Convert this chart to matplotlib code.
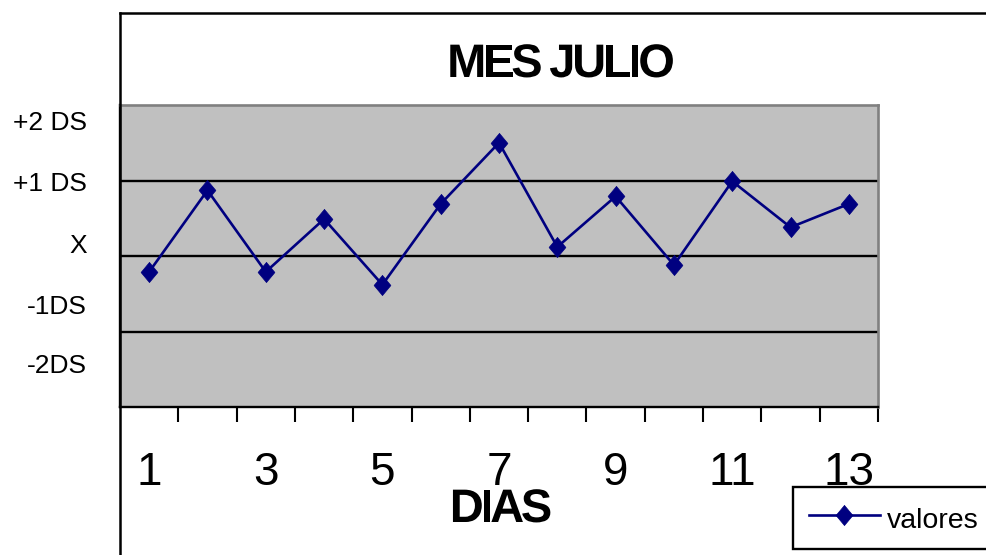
import matplotlib
matplotlib.use("Agg")
import matplotlib.pyplot as plt
from matplotlib.lines import Line2D
from matplotlib.patches import PathPatch
from matplotlib.textpath import TextPath
from matplotlib.font_manager import FontProperties, findfont, get_font
from matplotlib.transforms import IdentityTransform

plt.rcParams['font.family'] = ['Liberation Sans', 'DejaVu Sans']

# data
dias = list(range(1, 14))
valores = [1.79, 2.87, 1.79, 2.49, 1.62, 2.69, 3.50, 2.12, 2.79, 1.88, 2.99, 2.38, 2.69]
niveles = ["-2DS", "-1DS", "X", "+1 DS", "+2 DS"]
nivel_pos = [0.57, 1.36, 2.17, 2.99, 3.80]   # where the side labels sit
limites = [1, 2, 3]
titulo = "MES JULIO"
eje_x = "DIAS"

W, H = 986, 555
fig = plt.figure(figsize=(W / 100, H / 100), dpi=100)
fig.patch.set_facecolor("white")
ax = fig.add_axes([120 / W, (H - 407) / H, (878 - 120) / W, (407 - 105) / H])
ax.set_facecolor("#c0c0c0")

# slightly tall diamond like the excel marker
diamante = [(0, 1.2), (1, 0), (0, -1.2), (-1, 0), (0, 1.2)]
ax.plot(dias, valores, color="#000080", lw=1.9, marker=diamante, ms=14.5,
        mfc="#000080", mec="#000080", mew=0.5, label="valores", zorder=3)
for y in limites:
    ax.axhline(y, color="black", lw=1.7, zorder=2)

ax.set_xlim(0.5, 13.5)
ax.set_ylim(0, 4)
ax.set_xticks(dias[::2])
ax.set_xticklabels([str(d) for d in dias[::2]], fontsize=33)
ax.set_xticks([d + 0.5 for d in dias], minor=True)
ax.tick_params(axis="x", which="major", length=0, pad=32)
ax.tick_params(axis="x", which="minor", length=11, width=1.5, color="black", direction="out")
ax.set_yticks(nivel_pos)
ax.set_yticklabels(niveles, fontsize=19)
ax.tick_params(axis="y", length=0, pad=24)

for side in ("left", "bottom"):
    ax.spines[side].set_color("black")
    ax.spines[side].set_linewidth(1.7)
for side in ("top", "right"):
    ax.spines[side].set_color("#808080")
    ax.spines[side].set_linewidth(1.9)

# chart area frame (cut by the image edges)
fig.add_artist(Line2D([120, W + 5], [H - 13, H - 13], color="black", lw=1.8,
                      transform=IdentityTransform()))
fig.add_artist(Line2D([120, 120], [H - 13, -5], color="black", lw=1.8,
                      transform=IdentityTransform()))


def tight_text(s, cx, base, size_px, track):
    prop = FontProperties(family="Liberation Sans", weight="bold")
    font = get_font(findfont(prop))
    font.set_size(size_px, 72)
    advs = [font.load_char(ord(c)).linearHoriAdvance / 65536 for c in s]
    total = sum(advs) - track * (len(s) - 1)
    x = cx - total / 2
    for c, a in zip(s, advs):
        if c != " ":
            tp = TextPath((x, base), c, size=size_px, prop=prop)
            fig.add_artist(PathPatch(tp, fc="black", lw=0, transform=IdentityTransform()))
        x += a - track


tight_text(titulo, 561, H - 77, 47, 3.2)
tight_text(eje_x, 501, H - 522, 47, 3.3)

leg = ax.legend(loc="upper left", bbox_to_anchor=(793 / W, 1 - 487 / H),
                bbox_transform=fig.transFigure, fontsize=20.5, handlelength=2.5,
                handleheight=1.3, handletextpad=0.25, borderpad=0.55, borderaxespad=0,
                fancybox=False, framealpha=1, edgecolor="black")
leg.get_frame().set_linewidth(1.7)

fig.savefig("out.png", dpi=100)
